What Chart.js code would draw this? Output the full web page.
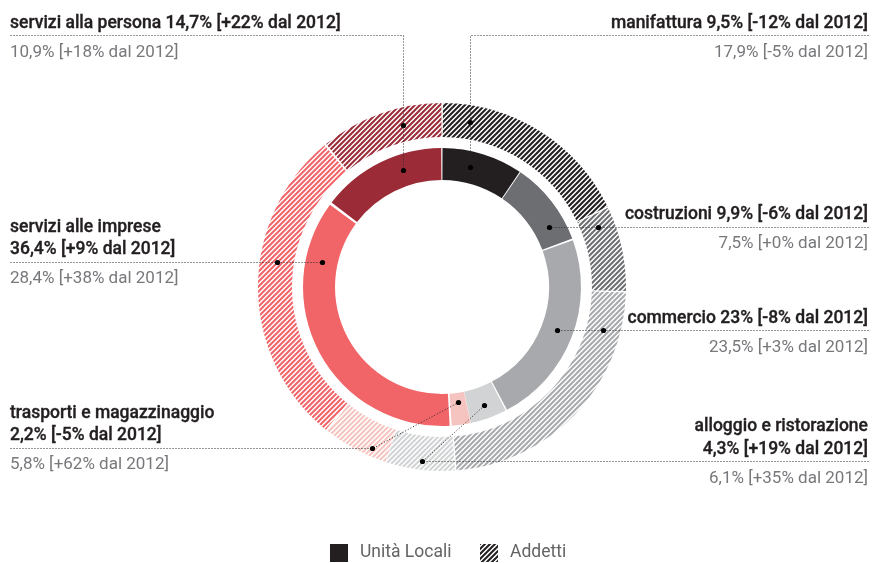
<!DOCTYPE html>
<html>
<head>
<meta charset="utf-8">
<script src="https://cdn.jsdelivr.net/npm/chart.js@4.4.1/dist/chart.umd.min.js"></script>
<style>
  html, body { margin: 0; padding: 0; background: #fff; }
  #wrap { position: relative; width: 873px; height: 563px; overflow: hidden; font-family: Roboto, "Noto Sans", sans-serif; }
  #c { position: absolute; left: 0; top: 0; }
  .lbl { position: absolute; line-height: 20px; white-space: nowrap; }
  .b { color: #231f20; font-weight: 500; font-size: 17.5px; -webkit-text-stroke: 0.35px #231f20; }
  .g { color: #77787b; font-weight: 400; font-size: 17px; }
  .leg { position: absolute; font-size: 17.5px; line-height: 20px; color: #636466; font-weight: 400; white-space: nowrap; }
  .legbox { position: absolute; width: 18px; height: 18px; }
</style>
</head>
<body>
<div id="wrap">
  <canvas id="c" width="873" height="563"></canvas>
</div>
<script>
// ---- data ----
const categories = ['manifattura', 'costruzioni', 'commercio', 'alloggio e ristorazione', 'trasporti e magazzinaggio', 'servizi alle imprese', 'servizi alla persona'];
const unitaLocali = [9.5, 9.9, 23, 4.3, 2.2, 36.4, 14.7];
const unitaLocaliChange = ['-12', '-6', '-8', '+19', '-5', '+9', '+22'];
const addetti = [17.9, 7.5, 23.5, 6.1, 5.8, 28.4, 10.9];
const addettiChange = ['-5', '+0', '+3', '+35', '+62', '+38', '+18'];
const seriesNames = ['Unità Locali', 'Addetti'];
const baseYear = 2012;
const colors = ['#231f20', '#6d6e71', '#a7a9ac', '#d1d3d4', '#f5c4c0', '#f16468', '#9a2b37'];

// ---- label layout (positions only) ----
const labelLayout = [
  { side: 'right', lineY: 35,    vx: 470, split: false },
  { side: 'right', lineY: 226.5, split: false },
  { side: 'right', lineY: 330,   split: false },
  { side: 'right', lineY: 461,   split: true, diag: true, rf: 0.56, dotSide: -1 },
  { side: 'left',  lineY: 447.5, split: true, diag: true, rf: 0.3, dotSide: -1 },
  { side: 'left',  lineY: 261.5, split: true },
  { side: 'left',  lineY: 35,    vx: 403, split: false }
];
const LEFT_X = 10, RIGHT_X = 868;

function fmt(v) { return String(v).replace('.', ',') + '%'; }

function hatch(color) {
  const s = 10;
  const c = document.createElement('canvas');
  c.width = s; c.height = s;
  const g = c.getContext('2d');
  g.strokeStyle = color;
  g.lineWidth = 2.0;
  for (let k = -1; k <= 5; k++) {
    const o = k * 5;
    g.beginPath();
    g.moveTo(-3, o + 3);
    g.lineTo(s + 3, o - s - 3);
    g.stroke();
  }
  return g.createPattern(c, 'repeat');
}

// ---- text labels (HTML) ----
const wrap = document.getElementById('wrap');
function addText(txt, cls, side, baseline) {
  const d = document.createElement('div');
  d.className = 'lbl ' + cls;
  d.textContent = txt;
  d.style.top = (baseline - 15.8) + 'px';
  if (side === 'left') d.style.left = LEFT_X + 'px';
  else d.style.right = (873 - RIGHT_X) + 'px';
  wrap.appendChild(d);
}
categories.forEach((cat, i) => {
  const L = labelLayout[i];
  const rest = fmt(unitaLocali[i]) + ' [' + unitaLocaliChange[i] + '% dal ' + baseYear + ']';
  const lines = L.split ? [cat, rest] : [cat + ' ' + rest];
  lines.forEach((t, j) => {
    addText(t, 'b', L.side, L.lineY - 7.5 - 22.5 * (lines.length - 1 - j));
  });
  addText(fmt(addetti[i]) + ' [' + addettiChange[i] + '% dal ' + baseYear + ']', 'g', L.side, L.lineY + 21.5);
});

// ---- legend (HTML) ----
function legendItem(x, fill, text) {
  const bc = document.createElement('canvas');
  bc.width = 18; bc.height = 18;
  bc.className = 'legbox';
  bc.style.left = x + 'px';
  bc.style.top = '543.5px';
  const g = bc.getContext('2d');
  g.fillStyle = fill === 'solid' ? colors[0] : hatch(colors[0]);
  g.fillRect(0, 0, 18, 18);
  wrap.appendChild(bc);
  const t = document.createElement('div');
  t.className = 'leg';
  t.textContent = text;
  t.style.left = (x + 30) + 'px';
  t.style.top = (557 - 15.8) + 'px';
  wrap.appendChild(t);
}
legendItem(330, 'solid', seriesNames[0]);
legendItem(480, 'hatch', seriesNames[1]);

// ---- leader lines plugin ----
const SP = 1.5;
const leaderPlugin = {
  id: 'leaders',
  afterDatasetsDraw(chart) {
    const ctx = chart.ctx;
    const outerMeta = chart.getDatasetMeta(0);
    const innerMeta = chart.getDatasetMeta(2);
    labelLayout.forEach((L, i) => {
      const ao = outerMeta.data[i], ai = innerMeta.data[i];
      const cx = ai.x, cy = ai.y;
      const rIn = (ai.innerRadius + ai.outerRadius) / 2 + SP;
      const rOut = (ao.innerRadius + ao.outerRadius) / 2 + SP;
      const s = L.dotSide !== undefined ? L.dotSide : (L.side === 'left' ? -1 : 1);
      const edge = L.side === 'left' ? LEFT_X : RIGHT_X;
      let pIn, pOut, path;
      if (L.vx !== undefined) {
        const dx = L.vx - cx;
        pIn = { x: L.vx, y: cy - Math.sqrt(rIn * rIn - dx * dx) };
        pOut = { x: L.vx, y: cy - Math.sqrt(rOut * rOut - dx * dx) };
        path = [[edge, L.lineY], [L.vx, L.lineY], [pIn.x, pIn.y]];
      } else if (L.diag) {
        const r = ao.innerRadius + SP + 0.74 * (ao.outerRadius - ao.innerRadius);
        const dy = L.lineY - cy;
        pOut = { x: cx + s * Math.sqrt(r * r - dy * dy), y: L.lineY };
        const mid = (ai.startAngle + ai.endAngle) / 2;
        const rr = ai.innerRadius + SP + L.rf * (ai.outerRadius - ai.innerRadius);
        pIn = { x: cx + rr * Math.cos(mid), y: cy + rr * Math.sin(mid) };
        path = [[edge, L.lineY], [pOut.x, pOut.y], [pIn.x, pIn.y]];
      } else {
        const dy = L.lineY - cy;
        pIn = { x: cx + s * Math.sqrt(rIn * rIn - dy * dy), y: L.lineY };
        pOut = { x: cx + s * Math.sqrt(rOut * rOut - dy * dy), y: L.lineY };
        path = [[edge, L.lineY], [pIn.x, pIn.y]];
      }
      ctx.save();
      ctx.strokeStyle = '#2a2a2a';
      ctx.lineWidth = 1;
      ctx.setLineDash([1, 2]);
      ctx.beginPath();
      path.forEach((p, k) => {
        const x = Math.round(p[0]) + 0.5, y = Math.round(p[1]) + 0.5;
        if (k === 0) ctx.moveTo(x, y); else ctx.lineTo(x, y);
      });
      ctx.stroke();
      ctx.setLineDash([]);
      ctx.fillStyle = '#000';
      [pIn, pOut].forEach(p => {
        ctx.beginPath();
        ctx.arc(Math.round(p.x) + 0.5, Math.round(p.y) + 0.5, 2.6, 0, Math.PI * 2);
        ctx.fill();
      });
      ctx.restore();
    });
  }
};

// ---- chart ----
new Chart(document.getElementById('c').getContext('2d'), {
  type: 'doughnut',
  data: {
    labels: categories,
    datasets: [
      { label: seriesNames[1], data: addetti, backgroundColor: colors.map(hatch), borderWidth: 0, weight: 34, spacing: 3 },
      { label: 'spacer', data: [1], backgroundColor: 'rgba(0,0,0,0)', borderWidth: 0, weight: 11, spacing: 3 },
      { label: seriesNames[0], data: unitaLocali, backgroundColor: colors, borderWidth: 0, weight: 32, spacing: 3 }
    ]
  },
  options: {
    responsive: false,
    animation: false,
    events: [],
    cutout: '57.8%',
    layout: { padding: { left: 258, top: 103, right: 247, bottom: 92 } },
    plugins: { legend: { display: false }, tooltip: { enabled: false } }
  },
  plugins: [leaderPlugin]
});
</script>
</body>
</html>
